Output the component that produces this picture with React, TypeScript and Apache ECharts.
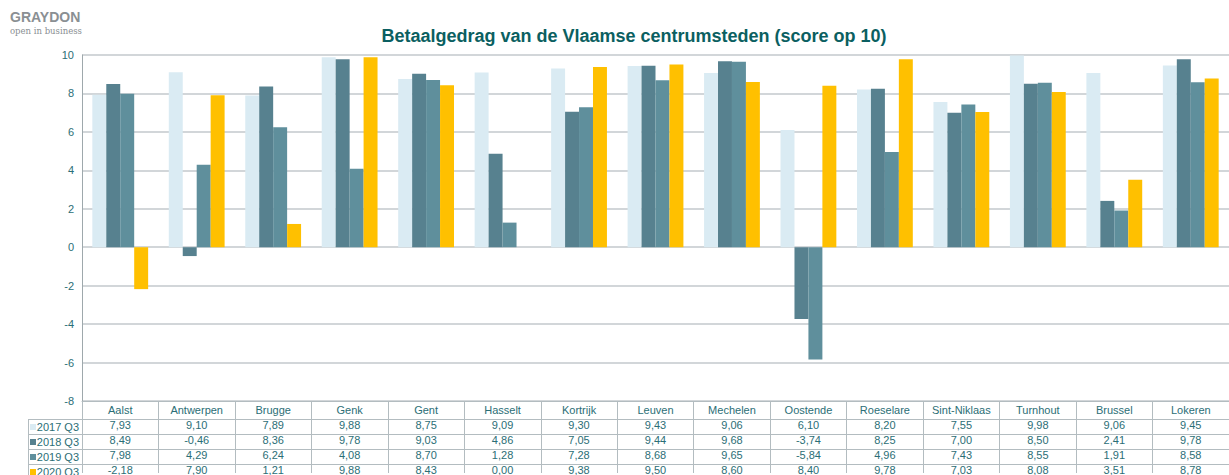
import React, { useEffect, useRef } from "react";
import * as echarts from "echarts";

const categories = ["Aalst", "Antwerpen", "Brugge", "Genk", "Gent", "Hasselt", "Kortrijk", "Leuven", "Mechelen", "Oostende", "Roeselare", "Sint-Niklaas", "Turnhout", "Brussel", "Lokeren"];
const seriesNames = ["2017 Q3", "2018 Q3", "2019 Q3", "2020 Q3"];
const q2017 = [7.93, 9.10, 7.89, 9.88, 8.75, 9.09, 9.30, 9.43, 9.06, 6.10, 8.20, 7.55, 9.98, 9.06, 9.45];
const q2018 = [8.49, -0.46, 8.36, 9.78, 9.03, 4.86, 7.05, 9.44, 9.68, -3.74, 8.25, 7.00, 8.50, 2.41, 9.78];
const q2019 = [7.98, 4.29, 6.24, 4.08, 8.70, 1.28, 7.28, 8.68, 9.65, -5.84, 4.96, 7.43, 8.55, 1.91, 8.58];
const q2020 = [-2.18, 7.90, 1.21, 9.88, 8.43, 0.00, 9.38, 9.50, 8.60, 8.40, 9.78, 7.03, 8.08, 3.51, 8.78];
const allValues = [q2017, q2018, q2019, q2020];
const colors = ["#daebf3", "#57818f", "#5f8f9c", "#ffc000"];

const TEAL = "#2b6e76";
const FONT = "Liberation Sans, Arial, sans-serif";
const GRID_LEFT = 82;
const GRID_TOP = 55;
const GRID_W = 1155;
const GRID_H = 348;
const LINE = "#b3bcc0";

const fmt = (v: number) => v.toFixed(2).replace(".", ",");

export default function App() {
  const ref = useRef<HTMLDivElement>(null);
  useEffect(() => {
    const chart = echarts.init(ref.current!, null, { renderer: "svg" });
    const valueAxes = allValues.map((vals, i) => ({
      type: "category" as const,
      data: vals.map(fmt),
      gridIndex: 0,
      position: "bottom" as const,
      offset: 15 * (i + 1),
      axisLine: { show: false },
      axisTick: { show: false },
      axisLabel: { color: TEAL, fontSize: 11, fontFamily: FONT, margin: 3, interval: 0 },
      splitLine: { show: false },
    }));
    const tableRight = GRID_LEFT + GRID_W;
    const hLines = [419.5, 434.5, 449.5, 464.5].map((y) => ({
      type: "line",
      shape: { x1: 28, y1: y, x2: tableRight, y2: y },
      style: { stroke: LINE, lineWidth: 1 },
      silent: true,
    }));
    const legendItems: any[] = [];
    seriesNames.forEach((name, i) => {
      const cy = 427 + i * 15;
      legendItems.push({
        type: "rect",
        shape: { x: 30, y: cy - 3, width: 6, height: 6 },
        style: { fill: colors[i] },
      });
      legendItems.push({
        type: "text",
        x: 79,
        y: cy,
        style: { text: name, fill: TEAL, fontSize: 11, fontFamily: FONT, align: "right", verticalAlign: "middle" },
      });
    });
    chart.setOption({
      animation: false,
      backgroundColor: "#ffffff",
      title: {
        text: "Betaalgedrag van de Vlaamse centrumsteden (score op 10)",
        left: 629,
        textAlign: "center",
        top: 22,
        textStyle: { color: "#0b5f61", fontSize: 18, fontWeight: "bold", fontFamily: FONT },
      },
      grid: { left: GRID_LEFT, top: GRID_TOP, width: GRID_W, height: GRID_H, containLabel: false },
      xAxis: [
        {
          type: "category",
          data: categories,
          position: "bottom",
          axisLine: { show: true, onZero: false, lineStyle: { color: LINE, width: 1 } },
          axisTick: { show: true, length: 72, alignWithLabel: false, lineStyle: { color: LINE, width: 1 } },
          axisLabel: { color: TEAL, fontSize: 11, fontFamily: FONT, margin: 3, interval: 0 },
          splitLine: { show: false },
        },
        ...valueAxes,
      ],
      yAxis: {
        type: "value",
        min: -8,
        max: 10,
        interval: 2,
        axisLine: { show: true, lineStyle: { color: "#9ea8ac" } },
        axisTick: { show: false },
        axisLabel: { color: TEAL, fontSize: 11, fontFamily: FONT, margin: 8 },
        splitLine: { show: true, lineStyle: { color: "#c3c9cc", width: 1.5 } },
      },
      series: allValues.map((vals, i) => ({
        type: "bar",
        name: seriesNames[i],
        data: vals,
        xAxisIndex: 0,
        barGap: "0%",
        barCategoryGap: "27%",
        itemStyle: { color: colors[i] },
      })),
      graphic: [
        {
          type: "text",
          x: 10,
          y: 10,
          style: { text: "GRAYDON", fill: "#8a8f93", fontSize: 14, fontWeight: "bold", fontFamily: FONT },
        },
        {
          type: "text",
          x: 10,
          y: 26,
          style: { text: "open in business", fill: "#8a8f93", fontSize: 8.5, fontFamily: "DejaVu Serif, serif" },
        },
        ...hLines,
        {
          type: "line",
          shape: { x1: 28.5, y1: 419, x2: 28.5, y2: 475 },
          style: { stroke: LINE, lineWidth: 1 },
        },
        ...legendItems,
      ],
    });
    return () => chart.dispose();
  }, []);
  return <div ref={ref} style={{ position: "fixed", left: 0, top: 0, width: 1229, height: 475 }} />;
}
